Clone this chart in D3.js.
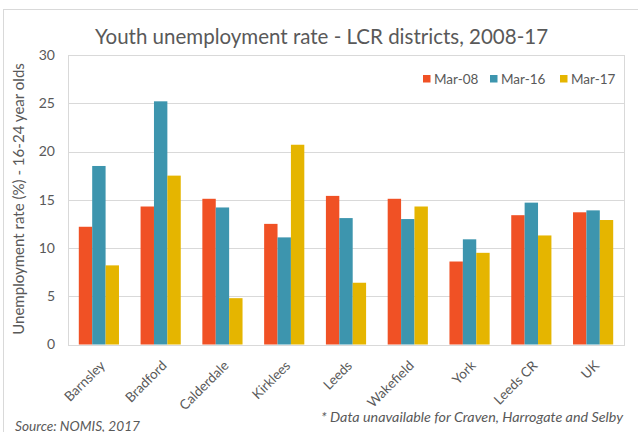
<!DOCTYPE html>
<html>
<head>
<meta charset="utf-8">
<script src="https://cdn.jsdelivr.net/npm/d3@7"></script>
<style>
  html, body { margin: 0; padding: 0; background: #fff; }
  svg { display: block; }
  text { font-family: Lato, "Open Sans", sans-serif; fill: #595959; }
</style>
</head>
<body>
<svg id="chart" width="638" height="432"></svg>
<script>
// Youth unemployment rate (%), 16-24 year olds, by district
const districts = ["Barnsley", "Bradford", "Calderdale", "Kirklees", "Leeds", "Wakefield", "York", "Leeds CR", "UK"];
const seriesNames = ["Mar-08", "Mar-16", "Mar-17"];
const mar08 = [12.2, 14.3, 15.1, 12.5, 15.4, 15.1, 8.6, 13.4, 13.7];
const mar16 = [18.5, 25.2, 14.2, 11.1, 13.1, 13.0, 10.9, 14.7, 13.9];
const mar17 = [8.2, 17.5, 4.8, 20.7, 6.4, 14.3, 9.5, 11.3, 12.9];
const yTicks = [0, 5, 10, 15, 20, 25, 30];
const seriesColors = ["#F05125", "#3D95AE", "#E5B500"];

const titleText = "Youth unemployment rate - LCR districts, 2008-17";
const yTitleText = "Unemployment rate (%) - 16-24 year olds";
const sourceText = "Source: NOMIS, 2017";
const noteText = "* Data unavailable for Craven, Harrogate and Selby";

const values = [mar08, mar16, mar17];
const rows = districts.map((d, i) => ({
  district: d,
  vals: seriesNames.map((s, k) => ({ series: s, value: values[k][i] }))
}));

const svg = d3.select("#chart");
const W = 638, H = 432;
const plot = { left: 68, right: 624, top: 55, bottom: 344.5 };

// size a text element so its rendered width equals the given width
function fitWidth(sel, width, startSize) {
  sel.style("font-size", startSize + "px");
  const w = sel.node().getComputedTextLength();
  sel.style("font-size", (startSize * width / w).toFixed(2) + "px");
}

// outer chart frame
svg.append("rect")
  .attr("x", 3.5).attr("y", 9.5)
  .attr("width", W + 10).attr("height", H + 10)
  .attr("fill", "none").attr("stroke", "#D9D9D9");

const x0 = d3.scaleBand().domain(districts).range([plot.left, plot.right]).padding(0);
const groupInset = 10.8;
const x1 = d3.scaleBand().domain(seriesNames)
  .range([groupInset, x0.bandwidth() - groupInset]).padding(0);
const y = d3.scaleLinear().domain([0, 30]).range([plot.bottom, plot.top]);
const color = d3.scaleOrdinal().domain(seriesNames).range(seriesColors);

// gridlines
svg.append("g")
  .selectAll("line").data(yTicks).join("line")
  .attr("x1", plot.left).attr("x2", plot.right)
  .attr("y1", d => Math.round(y(d)) + 0.5).attr("y2", d => Math.round(y(d)) + 0.5)
  .attr("stroke", "#D9D9D9").attr("stroke-width", 1);

// plot area border
svg.append("rect")
  .attr("x", plot.left + 0.5).attr("y", Math.round(y(30)) + 0.5)
  .attr("width", plot.right - plot.left)
  .attr("height", Math.round(y(0)) - Math.round(y(30)))
  .attr("fill", "none").attr("stroke", "#D9D9D9");

// bars
const groups = svg.append("g").selectAll("g").data(rows).join("g")
  .attr("transform", d => `translate(${x0(d.district)},0)`);
groups.selectAll("rect").data(d => d.vals).join("rect")
  .attr("x", d => x1(d.series))
  .attr("width", x1.bandwidth())
  .attr("y", d => y(d.value))
  .attr("height", d => y(0) - y(d.value))
  .attr("fill", d => color(d.series));

// y axis tick labels
const yAxis = d3.axisLeft(y).tickValues(yTicks).tickSize(0).tickPadding(0);
const yg = svg.append("g").attr("transform", `translate(${plot.left - 13},0)`).call(yAxis);
yg.select(".domain").remove();
yg.selectAll("text").style("font-family", "Lato, sans-serif").style("font-size", "14px").attr("fill", "#595959");

// x axis category labels, rotated
const xAxis = d3.axisBottom(x0).tickSize(0).tickPadding(0);
const xg = svg.append("g").attr("transform", `translate(0,${plot.bottom})`).call(xAxis);
xg.select(".domain").remove();
xg.selectAll("text")
  .style("font-family", "Lato, sans-serif").style("font-size", "13.5px").attr("fill", "#595959")
  .attr("text-anchor", "end")
  .attr("dy", null)
  .attr("y", 0)
  .attr("transform", "translate(7,22) rotate(-45)");

// title
const title = svg.append("text")
  .attr("x", 321.5).attr("y", 43.5)
  .attr("text-anchor", "middle")
  .text(titleText);
fitWidth(title, 453, 20);

// y axis title
const yTitle = svg.append("text")
  .attr("transform", "translate(24,199) rotate(-90)")
  .attr("text-anchor", "middle")
  .text(yTitleText);
fitWidth(yTitle, 272, 14.5);

// legend
const legendX = [423, 490, 560];
const legend = svg.append("g").selectAll("g").data(seriesNames).join("g")
  .attr("transform", (d, i) => `translate(${legendX[i]},0)`);
legend.append("rect")
  .attr("x", 0).attr("y", 75).attr("width", 7.5).attr("height", 7.5)
  .attr("fill", d => color(d));
legend.append("text")
  .attr("x", 11).attr("y", 83.5)
  .style("font-size", "13.5px")
  .text(d => d);

// source and footnote
const src = svg.append("text")
  .attr("x", 15).attr("y", 430.5)
  .style("font-style", "italic")
  .text(sourceText);
fitWidth(src, 125, 14);

const note = svg.append("text")
  .attr("x", 623).attr("y", 421.5)
  .attr("text-anchor", "end")
  .style("font-style", "italic")
  .text(noteText);
fitWidth(note, 302, 14);
</script>
</body>
</html>
